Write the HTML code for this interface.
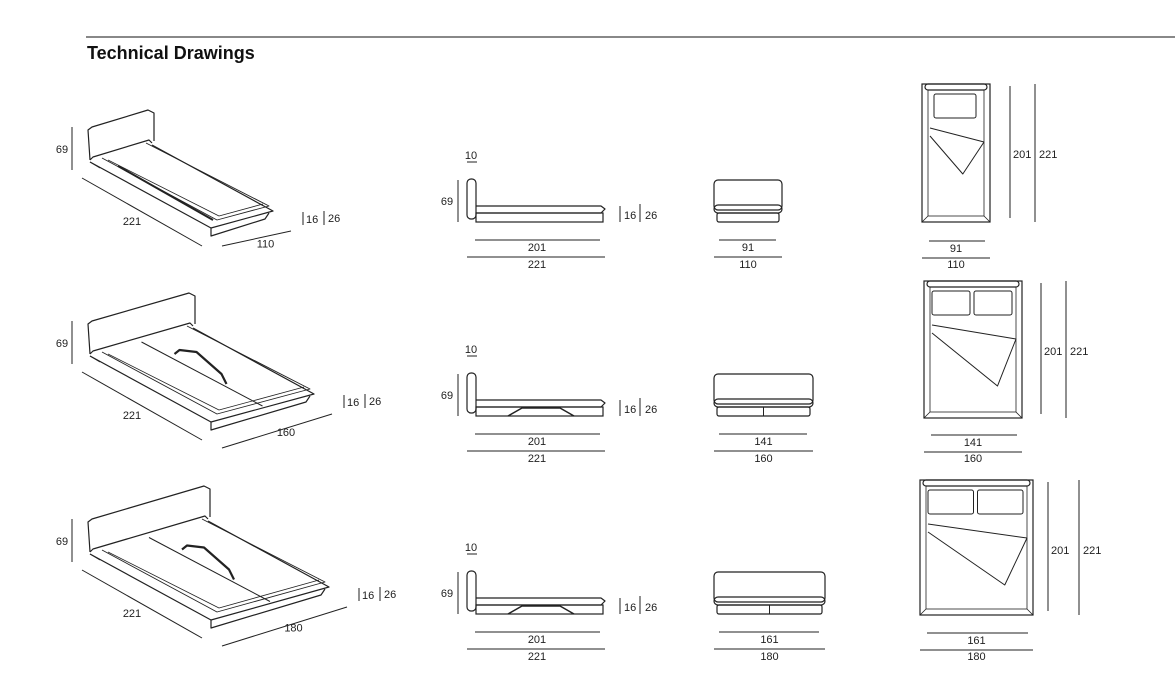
<!DOCTYPE html>
<html><head><meta charset="utf-8"><style>
body{margin:0;background:#fff;width:1175px;height:677px;overflow:hidden}
svg{position:absolute;left:0;top:0}
text{font-family:"Liberation Sans",sans-serif;font-size:11px;fill:#222}
</style></head><body>
<svg id="s" width="1175" height="677" xmlns="http://www.w3.org/2000/svg">
<line x1="86" y1="37" x2="1175" y2="37" stroke="#111" stroke-width="1"/>
<text x="87" y="59" style="font-size:18px;font-weight:bold;fill:#111">Technical Drawings</text>
</svg>
<script>
const s=document.getElementById('s');let h='';
function L(a,b,c,d,w){h+=`<line x1="${a}" y1="${b}" x2="${c}" y2="${d}" stroke="#222" stroke-width="${w||1}"/>`}
function P(pts,w){h+=`<polyline points="${pts.map(p=>p.join(',')).join(' ')}" fill="none" stroke="#222" stroke-width="${w||1.2}" stroke-linejoin="round"/>`}
function T(x,y,t,a){h+=`<text x="${x}" y="${y}" text-anchor="${a||'middle'}">${t}</text>`}
function R(x,y,w,hh,r,sw){h+=`<rect x="${x}" y="${y}" width="${w}" height="${hh}" rx="${r||0}" fill="none" stroke="#222" stroke-width="${sw||1.2}"/>`}
const rows=[{dy:0,W:[62,-17],wd:'110',in:'91',fw:68,tw:68,tx:922,ty:84,th:138,lx1:1010,lx2:1035,dbl:0},
{dy:194,W:[103,-28],wd:'160',in:'141',fw:99,tw:98,tx:924,ty:281,th:137,lx1:1041,lx2:1066,dbl:1},
{dy:392,W:[118,-33],wd:'180',in:'161',fw:111,tw:113,tx:920,ty:480,th:135,lx1:1048,lx2:1079,dbl:1}];
rows.forEach(r=>{const d=r.dy;const H=[90,160+d],W=r.W,Lv=[121,66];
const add=(p,...v)=>v.reduce((a,b)=>[a[0]+b[0],a[1]+b[1]],p);
P([add(H,[0,0]),add(H,[-2,-30]),add(H,[2,-33]),add(H,W,[-4,-33]),add(H,W,[2,-30]),add(H,W,[2,-2])]);
const A=H,B=add(H,Lv),C=add(H,Lv,W),D=add(H,W);
P([add(A,[0,2]),add(B,[0,2]),add(C,[0,2]),add(D,[0,2])]);
P([A,add(A,[3,-3]),add(D,[-3,-3]),D]);
P([add(A,[12,-2]),add(B,[6,-6]),add(C,[-4,-3]),add(D,[-6,0])],0.9);
P([add(A,[18,0]),add(B,[8,-10]),add(C,[-10,-5])],0.8);
P([add(B,[0,2]),add(B,[0,10]),add(C,[-8,10]),add(C,[-4,4])]);
P([add(A,[0,2]),add(A,[10,8])],1);
const m=[(A[0]+D[0])/2,(A[1]+D[1])/2],n=[(B[0]+C[0])/2,(B[1]+C[1])/2];
if(!r.dbl){L(A[0]+28,A[1]+6,B[0]+2,B[1]-6,2)}
else{L(m[0],m[1]+2,n[0],n[1],1);P([add(m,[33,14]),add(m,[38,10]),add(m,[55,12]),add(m,[80,34]),add(m,[85,44])],2.2)}
L(72,127+d,72,170+d,1);T(62,153+d,'69');
L(82,178+d,202,246+d,1);T(132,225+d,'221');
L(222,246+d+(r.dbl?8:0),C[0]+18,C[1]+22,1);T((222+C[0])/2+18,(246+d+C[1])/2+20,r.wd);
const dx=C[0]+30,dyy=C[1]+8;L(dx,dyy-5,dx,dyy+8,1);T(dx+3,dyy+6,'16','start');L(dx+21,dyy-6,dx+21,dyy+8,1);T(dx+25,dyy+5,'26','start');
R(467,179+d,9,40,4);P([[476,206+d],[601,206+d],[605,209+d],[601,213+d],[476,213+d]]);R(476,213+d,127,9,0);
if(r.dbl){P([[508,222+d],[522,214+d],[560,214+d],[574,222+d]],1.5)}
L(475,240+d,600,240+d,1);T(537,251+d,'201');L(467,257+d,605,257+d,1);T(537,268+d,'221');
L(458,180+d,458,222+d,1);T(447,205+d,'69');T(471,159+d,'10');L(467,162+d,477,162+d,1);
T(624,219+d,'16','start');L(620,206+d,620,222+d,1);L(640,204+d,640,222+d,1);T(645,219+d,'26','start');
const fx=714,fw=r.fw;R(fx,180+d,fw,30,4);R(fx,205+d,fw,8,4);R(fx+3,213+d,fw-6,9,2);
if(r.dbl)L(fx+fw/2,213+d,fx+fw/2,222+d,1);
L(fx+5,240+d,fx+fw-6,240+d,1);T(fx+fw/2,251+d,r.in);L(fx,257+d,fx+fw,257+d,1);T(fx+fw/2,268+d,r.wd);
const tx=r.tx,tw=r.tw,ty=r.ty,th=r.th;
R(tx,ty,tw,th,0);R(tx+3,ty,tw-6,6,3);R(tx+6,ty+6,tw-12,th-12,0,0.8);
L(tx,ty+th,tx+6,ty+th-6,0.8);L(tx+tw,ty+th,tx+tw-6,ty+th-6,0.8);
const pw=r.dbl?(tw-18)/2:tw-24;
for(let i=0;i<(r.dbl?2:1);i++){const px=r.dbl?tx+8+i*(pw+2):tx+12;R(px,ty+10,pw-2,24,2,1)}
P([[tx+8,ty+44],[tx+tw-6,ty+58]],1);P([[tx+8,ty+52],[tx+(r.dbl?tw*0.75:tw*0.6),ty+(r.dbl?105:90)],[tx+tw-6,ty+58]],1);
L(r.lx1,ty+2,r.lx1,ty+th-4,1);T(r.lx1+3,ty+74,'201','start');L(r.lx2,ty,r.lx2,ty+th,1);T(r.lx2+4,ty+74,'221','start');
L(tx+7,241+d,tx+tw-5,241+d,1);T(tx+tw/2,252+d,r.in);L(tx,258+d,tx+tw,258+d,1);T(tx+tw/2,268+d,r.wd);
});
s.insertAdjacentHTML('beforeend',h);
</script>
</body></html>
